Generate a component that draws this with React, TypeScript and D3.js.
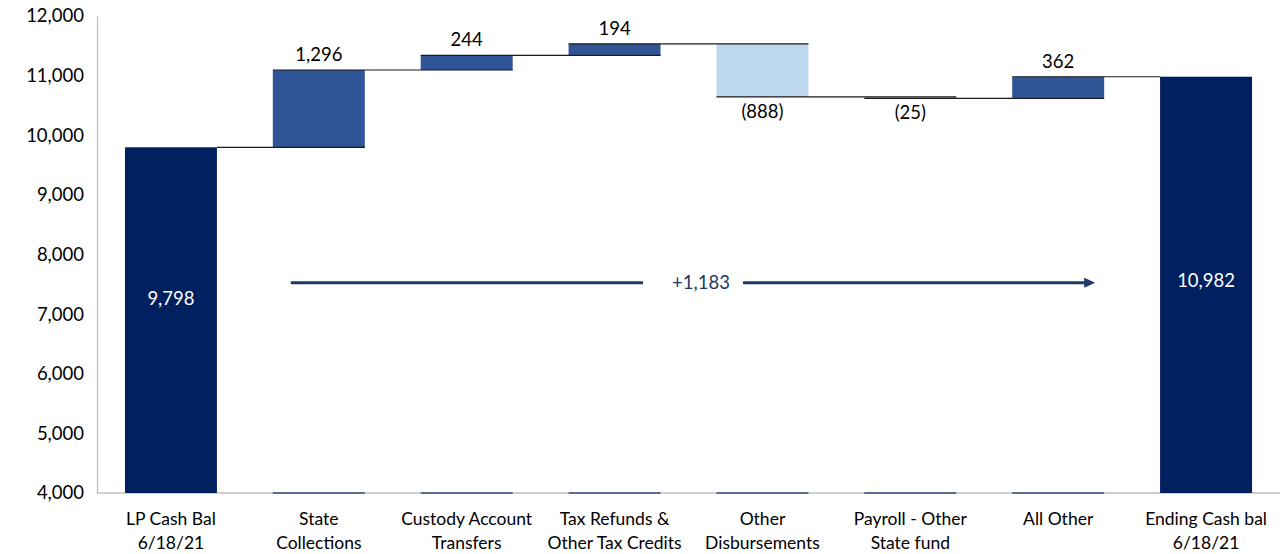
import React, { useRef, useEffect } from "react";
import * as d3 from "d3";

const categories = [
  ["LP Cash Bal", "6/18/21"],
  ["State", "Collections"],
  ["Custody Account", "Transfers"],
  ["Tax Refunds &", "Other Tax Credits"],
  ["Other", "Disbursements"],
  ["Payroll - Other", "State fund"],
  ["All Other", ""],
  ["Ending Cash bal", "6/18/21"],
];
const startBalance = 9798;
const changes = [1296, 244, 194, -888, -25, 362];
const endBalance = 10982;
const netChange = "+1,183";
const yTicks = [4000, 5000, 6000, 7000, 8000, 9000, 10000, 11000, 12000];

const NAVY = "#002060";
const POS = "#2F5597";
const NEG = "#BDD7EE";
const FONT = "Lato, 'Open Sans', sans-serif";

const App = () => {
  const ref = useRef<SVGSVGElement>(null);

  useEffect(() => {
    document.body.style.margin = "0";
    const width = 1288;
    const height = 554;
    const svg = d3.select(ref.current).attr("width", width).attr("height", height);
    svg.selectAll("*").remove();

    const labels = categories.map((c) => c.join(" "));
    const x = d3.scaleBand<string>().domain(labels).range([97, 1280]).paddingInner(0.378).paddingOuter(0.189);
    const y = d3.scaleLinear().domain([4000, 12000]).range([493, 16]);
    const fmt = d3.format(",");

    // build waterfall steps
    type Step = { key: string; lo: number; hi: number; value: number; kind: string };
    const steps: Step[] = [];
    steps.push({ key: labels[0], lo: 4000, hi: startBalance, value: startBalance, kind: "total" });
    let cum = startBalance;
    changes.forEach((v, i) => {
      const next = cum + v;
      steps.push({ key: labels[i + 1], lo: Math.min(cum, next), hi: Math.max(cum, next), value: v, kind: v >= 0 ? "pos" : "neg" });
      cum = next;
    });
    steps.push({ key: labels[7], lo: 4000, hi: endBalance, value: endBalance, kind: "total" });
    const levels = [startBalance];
    changes.reduce((a, v) => { levels.push(a + v); return a + v; }, startBalance);

    // axes
    const yAxis = svg.append("g")
      .attr("transform", `translate(97,0)`)
      .call(d3.axisLeft(y).tickValues(yTicks).tickSize(0).tickPadding(13).tickFormat((d) => fmt(d as number)));
    yAxis.select(".domain").attr("stroke", "#BFBFBF").attr("stroke-width", 1.3);
    yAxis.selectAll("text").attr("font-family", FONT).attr("font-size", 18.5).attr("fill", "#000");

    svg.append("line")
      .attr("x1", 97).attr("x2", 1280).attr("y1", y(4000)).attr("y2", y(4000))
      .attr("stroke", "#BFBFBF").attr("stroke-width", 1.3);

    // baseline stubs under floating bars
    svg.append("g").selectAll("line")
      .data(steps.filter((s) => s.kind !== "total"))
      .join("line")
      .attr("x1", (d) => x(d.key)!).attr("x2", (d) => x(d.key)! + x.bandwidth())
      .attr("y1", y(4000)).attr("y2", y(4000))
      .attr("stroke", "#3A4A7A").attr("stroke-width", 1.5);

    // bars
    svg.append("g").selectAll("rect")
      .data(steps)
      .join("rect")
      .attr("x", (d) => x(d.key)!)
      .attr("width", x.bandwidth())
      .attr("y", (d) => y(d.hi))
      .attr("height", (d) => Math.max(1.5, y(d.lo) - y(d.hi)))
      .attr("fill", (d) => (d.kind === "total" ? NAVY : d.kind === "pos" ? POS : NEG));

    // connectors
    svg.append("g").selectAll("line")
      .data(levels)
      .join("line")
      .attr("x1", (_, i) => x(labels[i])! + (i === 0 ? x.bandwidth() : 0))
      .attr("x2", (_, i) => x(labels[i + 1])! + (i === levels.length - 1 ? 0 : x.bandwidth()))
      .attr("y1", (d) => y(d)).attr("y2", (d) => y(d))
      .attr("stroke", "#1A1A1A").attr("stroke-width", 1.2);

    // value labels for changes
    svg.append("g").selectAll("text")
      .data(steps.filter((s) => s.kind !== "total"))
      .join("text")
      .attr("x", (d) => x(d.key)! + x.bandwidth() / 2)
      .attr("y", (d) => (d.kind === "pos" ? y(d.hi) - 9 : y(d.lo) + 21))
      .attr("text-anchor", "middle")
      .attr("font-family", FONT).attr("font-size", 18.5).attr("fill", "#000")
      .text((d) => (d.value >= 0 ? fmt(d.value) : `(${fmt(-d.value)})`));

    // labels inside total bars
    const totalLabelLevels = [7270, 7560];
    svg.append("g").selectAll("text")
      .data(steps.filter((s) => s.kind === "total"))
      .join("text")
      .attr("x", (d) => x(d.key)! + x.bandwidth() / 2)
      .attr("y", (_, i) => y(totalLabelLevels[i]))
      .attr("dy", "0.35em")
      .attr("text-anchor", "middle")
      .attr("font-family", FONT).attr("font-size", 18.5).attr("fill", "#fff")
      .text((d) => fmt(d.value));

    // net change arrow
    const arrowY = y(7525);
    const ax1 = x(labels[1])! + 18;
    const ax2 = x(labels[6])! + x.bandwidth() - 9;
    const midX = (ax1 + ax2) / 2;
    const gap = 50;
    const arrowColor = "#1F3864";
    svg.append("line").attr("x1", ax1).attr("x2", midX - gap).attr("y1", arrowY).attr("y2", arrowY)
      .attr("stroke", arrowColor).attr("stroke-width", 3);
    svg.append("line").attr("x1", midX + gap).attr("x2", ax2 - 10).attr("y1", arrowY).attr("y2", arrowY)
      .attr("stroke", arrowColor).attr("stroke-width", 3);
    svg.append("path")
      .attr("d", `M${ax2},${arrowY} L${ax2 - 11},${arrowY - 5} L${ax2 - 11},${arrowY + 5} Z`)
      .attr("fill", arrowColor);
    svg.append("text").attr("x", midX + 8).attr("y", arrowY).attr("dy", "0.35em")
      .attr("text-anchor", "middle").attr("font-family", FONT).attr("font-size", 18.5)
      .attr("fill", arrowColor).text(netChange);

    // category labels
    const cat = svg.append("g").selectAll("text")
      .data(categories)
      .join("text")
      .attr("text-anchor", "middle")
      .attr("font-family", FONT).attr("font-size", 17.5).attr("fill", "#000");
    cat.each(function (d, i) {
      const t = d3.select(this);
      const cx = x(labels[i])! + x.bandwidth() / 2;
      d.forEach((line, j) => {
        if (!line) return;
        t.append("tspan").attr("x", cx).attr("y", 525 + j * 24).text(line);
      });
    });
  }, []);

  return <svg ref={ref} style={{ display: "block" }} />;
};

export default App;
